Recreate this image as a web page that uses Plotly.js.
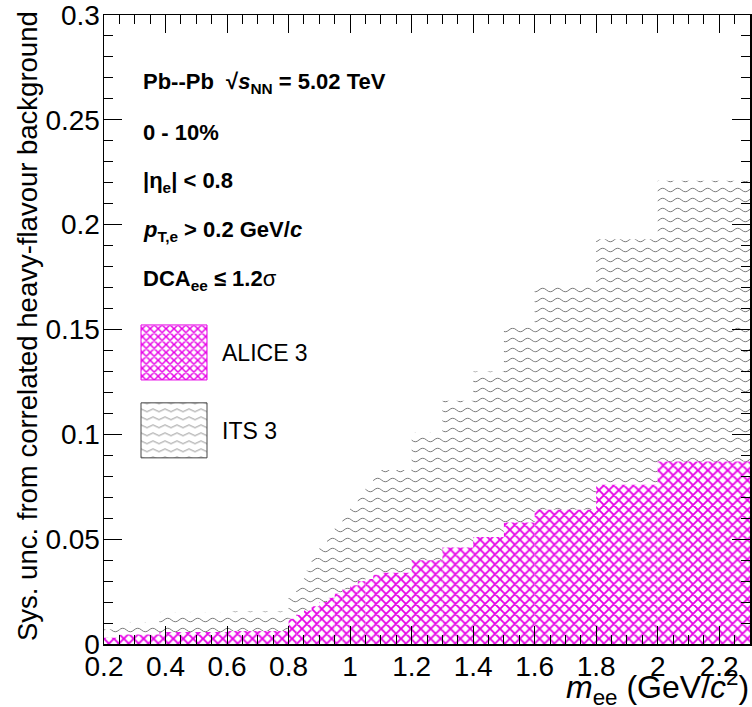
<!DOCTYPE html>
<html>
<head>
<meta charset="utf-8">
<script src="https://cdn.plot.ly/plotly-3.0.1.min.js"></script>
<style>
  html, body { margin: 0; padding: 0; background: #ffffff; }
  #chart { width: 752px; height: 707px; }
</style>
</head>
<body>
<div id="chart"></div>
<script>
// Bin edges of the invariant-mass histogram (GeV/c^2)
const binEdges = [0.2, 0.25, 0.38, 0.6, 0.8,
  0.825, 0.85, 0.875, 0.9, 0.925, 0.95, 0.975, 1.0,
  1.025, 1.05, 1.075, 1.1, 1.2, 1.3, 1.4, 1.5, 1.6, 1.8, 2.0, 2.3];

// Systematic uncertainty from the correlated heavy-flavour background, per bin
const its3Unc = [0.007, 0.0105, 0.015, 0.0155,
  0.022, 0.029, 0.035, 0.041, 0.046, 0.051, 0.056, 0.061,
  0.066, 0.071, 0.075, 0.080, 0.083, 0.101, 0.116, 0.130, 0.151, 0.171, 0.193, 0.221];

const alice3Unc = [0.003, 0.0045, 0.0057, 0.0062,
  0.012, 0.014, 0.016, 0.018, 0.020, 0.022, 0.024, 0.026,
  0.028, 0.030, 0.031, 0.033, 0.034, 0.040, 0.046, 0.051, 0.058, 0.064, 0.076, 0.087];

const seriesNames = ['ALICE 3', 'ITS 3'];

const xTitle = '<i>m</i><sub>ee</sub> (GeV/<i>c</i><sup>2</sup>)';
const yTitle = 'Sys. unc. from correlated heavy-flavour background';

const infoLines = [
  'Pb--Pb  √<i>s</i><sub>NN</sub> = 5.02 TeV',
  '0 - 10%',
  '|η<sub>e</sub>| < 0.8',
  '<i>p</i><sub>T,e</sub> > 0.2 GeV/<i>c</i>',
  'DCA<sub>ee</sub> ≤ 1.2<span style="font-weight:normal">σ</span>'
];

// histogram bins -> bar centres and widths
const binCentres = binEdges.slice(0, -1).map((e, i) => (e + binEdges[i + 1]) / 2);
const binWidths = binEdges.slice(0, -1).map((e, i) => binEdges[i + 1] - e);

const MAGENTA = 'rgb(230,0,230)';
const WAVE_GREY = 'rgb(121,121,121)';
const FONT = 'Liberation Sans, Arial, Helvetica, sans-serif';

// frame geometry in pixels
const M = { l: 104, r: 2, t: 15, b: 63 };
const W = 752 - M.l - M.r, H = 707 - M.t - M.b;
const px2x = px => (px - M.l) / W;
const py2y = py => (M.t + H - py) / H;

const its3 = {
  type: 'bar', name: seriesNames[1], legendgroup: 'its3', legendrank: 2,
  x: binCentres, y: its3Unc, width: binWidths,
  marker: {
    color: 'rgba(0,0,0,0)',
    line: { width: 0 },
    pattern: { shape: '-', fgcolor: WAVE_GREY, bgcolor: 'rgba(0,0,0,0)', size: 10, solidity: 0.1 }
  },
  hoverinfo: 'skip'
};

const alice3 = {
  type: 'bar', name: seriesNames[0], legendgroup: 'alice3', legendrank: 1,
  x: binCentres, y: alice3Unc, width: binWidths,
  marker: {
    color: 'white',
    line: { width: 0 },
    pattern: { shape: 'x', fgcolor: MAGENTA, bgcolor: 'white', size: 7, solidity: 0.45 }
  },
  hoverinfo: 'skip'
};

const annotations = infoLines.map((t, i) => ({
  text: t, xref: 'paper', yref: 'paper',
  x: px2x(141), y: py2y(83 + i * 49.3),
  xanchor: 'left', yanchor: 'middle', showarrow: false,
  font: { family: FONT, size: 22, color: 'black', weight: 'bold' }
}));

annotations.push({
  text: yTitle, xref: 'paper', yref: 'paper', textangle: -90,
  x: px2x(27), y: py2y(9), xanchor: 'center', yanchor: 'top', showarrow: false,
  font: { family: FONT, size: 27.5, color: 'black' }
});
annotations.push({
  text: xTitle, xref: 'paper', yref: 'paper',
  x: px2x(751), y: py2y(687), xanchor: 'right', yanchor: 'middle', showarrow: false,
  font: { family: FONT, size: 32, color: 'black' }
});

const axisCommon = {
  showgrid: false, zeroline: false,
  showline: true, linecolor: 'black', linewidth: 1.5, mirror: 'allticks',
  ticks: 'inside', ticklen: 18, tickwidth: 1, tickcolor: 'black',
  ticklabeloverflow: 'allow', ticklabelstandoff: 0,
  tickfont: { family: FONT, size: 28, color: 'black' }
};

const layout = {
  width: 752, height: 707,
  margin: M,
  paper_bgcolor: 'white', plot_bgcolor: 'white',
  barmode: 'overlay',
  showlegend: true,
  legend: {
    x: px2x(126), y: py2y(331), xanchor: 'left', yanchor: 'top',
    bgcolor: 'rgba(0,0,0,0)', borderwidth: 0,
    itemwidth: 86, tracegroupgap: 45,
    font: { family: FONT, size: 23, color: 'black' }
  },
  xaxis: Object.assign({}, axisCommon, {
    range: [0.2, 2.3], tick0: 0.2, dtick: 0.2,
    minor: { dtick: 0.05, tick0: 0.2, ticks: 'inside', ticklen: 9, tickwidth: 1, tickcolor: 'black' }
  }),
  yaxis: Object.assign({}, axisCommon, {
    range: [0, 0.3], tick0: 0, dtick: 0.05,
    minor: { dtick: 0.01, tick0: 0, ticks: 'inside', ticklen: 9, tickwidth: 1, tickcolor: 'black' }
  }),
  annotations: annotations
};

Plotly.newPlot('chart', [its3, alice3], layout, { staticPlot: true }).then(gd => {
  // wavy hatching tile for the ITS 3 fill
  gd.querySelectorAll('pattern').forEach(p => {
    const path = p.querySelector('path');
    if (!path) return;
    const st = (path.getAttribute('style') || '') + (path.getAttribute('stroke') || '');
    if (st.indexOf('121') === -1) return;
    p.setAttribute('width', 15);
    p.setAttribute('height', 10);
    path.setAttribute('d', 'M0,5 Q3.75,1.5 7.5,5 T15,5');
    path.style.strokeWidth = '1px';
    path.style.fill = 'none';
    path.style.stroke = WAVE_GREY;
  });
  // tick labels sit a little tighter to the frame (label groups only, not tick marks)
  gd.querySelectorAll('.xaxislayer-above g.xtick').forEach(g => g.setAttribute('transform', 'translate(0,-3)'));
  gd.querySelectorAll('.yaxislayer-above g.ytick').forEach(g => g.setAttribute('transform', 'translate(3,0)'));
  // let the enlarged swatches extend past the legend box
  gd.querySelectorAll('.legend [clip-path]').forEach(el => el.removeAttribute('clip-path'));
  // large legend swatches with thin borders
  gd.querySelectorAll('.legend .traces').forEach(tr => {
    const name = tr.querySelector('.legendtext').textContent;
    tr.querySelectorAll('.legendpoints path').forEach(path => {
      path.setAttribute('d', 'M33,27.5H-33V-27.5H33Z');
      path.style.stroke = name === seriesNames[0] ? MAGENTA : '#444';
      path.style.strokeWidth = '1px';
    });
  });
});
</script>
</body>
</html>
